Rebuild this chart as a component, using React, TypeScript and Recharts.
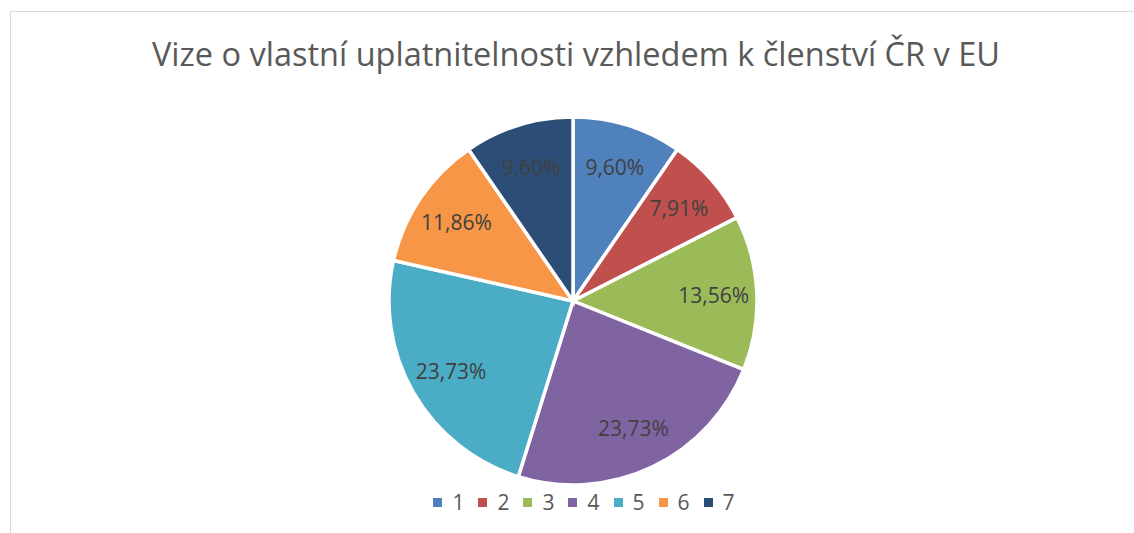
import { Cell, Legend, Pie, PieChart } from "recharts";

const categories = ["1", "2", "3", "4", "5", "6", "7"];
const shares = [9.6, 7.91, 13.56, 23.73, 23.73, 11.86, 9.6];
const COLORS = ["#4f81bd", "#c0504d", "#9bbb59", "#8064a2", "#4bacc6", "#f79646", "#2c4d75"];

const data = categories.map((name, i) => ({ name, value: shares[i] }));

const FONT = "'Open Sans', 'Noto Sans', sans-serif";
const RADIAN = Math.PI / 180;

interface LabelProps {
  cx?: number;
  cy?: number;
  midAngle?: number;
  outerRadius?: number;
  value?: number;
}

function renderLabel({ cx = 0, cy = 0, midAngle = 0, outerRadius = 0, value = 0 }: LabelProps) {
  const r = outerRadius * 0.765;
  const x = cx + r * Math.cos(-midAngle * RADIAN);
  const y = cy + r * Math.sin(-midAngle * RADIAN);
  return (
    <text
      x={x}
      y={y}
      fill="#404040"
      fontSize={21}
      fontFamily={FONT}
      textAnchor="middle"
      dominantBaseline="central"
    >
      {value.toFixed(2).replace(".", ",")}%
    </text>
  );
}

interface LegendEntry {
  value?: string;
  color?: string;
}

function LegendContent({ payload }: { payload?: LegendEntry[] }) {
  if (!payload) return null;
  return (
    <div style={{ display: "flex", justifyContent: "center", paddingLeft: 48 }}>
      {payload.map((p) => (
        <div
          key={String(p.value)}
          style={{ display: "flex", alignItems: "center", marginRight: 14 }}
        >
          <span
            style={{ display: "inline-block", width: 9, height: 9, backgroundColor: p.color, marginRight: 10 }}
          />
          <span style={{ fontFamily: FONT, fontSize: 21, color: "#595959", lineHeight: "24px" }}>
            {p.value}
          </span>
        </div>
      ))}
    </div>
  );
}

export default function App() {
  return (
    <div style={{ position: "absolute", top: 0, left: 0, width: 1134, height: 533, background: "#fff", overflow: "hidden" }}>
      <div
        style={{
          position: "absolute",
          top: 11,
          left: 10,
          width: 1200,
          height: 600,
          borderTop: "1px solid #d9d9d9",
          borderLeft: "1px solid #d9d9d9",
        }}
      />
      <PieChart
        width={1134}
        height={533}
        margin={{ top: 0, right: 0, bottom: 0, left: 0 }}
        style={{ position: "absolute", top: 0, left: 0 }}
      >
        <text
          x={576}
          y={66}
          textAnchor="middle"
          fill="#595959"
          fontSize={32.5}
          fontFamily={FONT}
        >
          Vize o vlastní uplatnitelnosti vzhledem k členství ČR v EU
        </text>
        <Pie
          data={data}
          dataKey="value"
          nameKey="name"
          cx={573}
          cy={301}
          outerRadius={184}
          startAngle={90}
          endAngle={-270}
          stroke="#fff"
          strokeWidth={3.5}
          label={renderLabel}
          labelLine={false}
          isAnimationActive={false}
        >
          {data.map((d, i) => (
            <Cell key={d.name} fill={COLORS[i]} />
          ))}
        </Pie>
        <Legend
          content={<LegendContent />}
          wrapperStyle={{ position: "absolute", top: 490, left: 0, width: 1134 }}
        />
      </PieChart>
    </div>
  );
}
